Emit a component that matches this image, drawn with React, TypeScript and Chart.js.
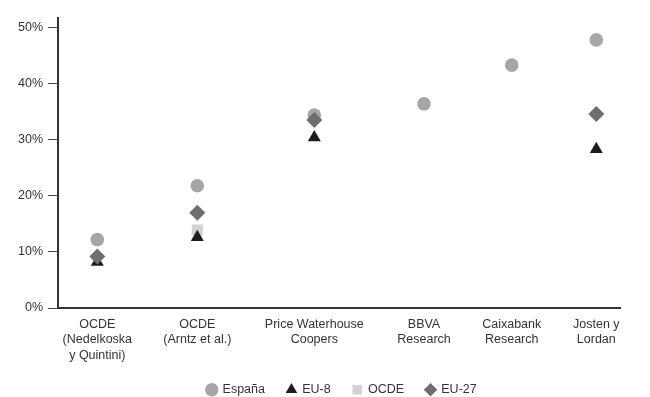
import React, { useEffect, useRef } from "react";
import { Chart, registerables } from "chart.js";

Chart.register(...registerables);

const categories: string[][] = [
  ["OCDE", "(Nedelkoska", "y Quintini)"],
  ["OCDE", "(Arntz et al.)"],
  ["Price Waterhouse", "Coopers"],
  ["BBVA", "Research"],
  ["Caixabank", "Research"],
  ["Josten y", "Lordan"],
];
// horizontal position of each study along the axis (uneven spacing as in the source)
const categoryPositions = [0, 1.0, 2.17, 3.267, 4.144, 4.99];

const espana = [12.2, 21.8, 34.4, 36.4, 43.3, 47.8];
const eu8 = [8.2, 12.6, 30.4, null, null, 28.3];
const ocde = [null, 13.9, null, null, null, null];
const eu27 = [9.2, 17.0, 33.5, null, null, 34.6];

const yTicks = [0, 10, 20, 30, 40, 50];

const FONT = "'Liberation Sans', Arial, Helvetica, sans-serif";
const TEXT = "#333333";

function toPoints(values: (number | null)[]) {
  return values
    .map((v, i) => (v === null ? null : { x: categoryPositions[i], y: v }))
    .filter((p) => p !== null) as { x: number; y: number }[];
}

const legendPlacement = {
  id: "legendPlacement",
  afterLayout(chart: any) {
    const lg = chart.legend;
    const area = chart.chartArea;
    if (lg && area) {
      const dx = (area.left + area.right) / 2 + 3 - (lg.left + lg.right) / 2;
      lg.left += dx;
      lg.right += dx;
      lg.top += 9;
      lg.bottom += 9;
    }
    const xs = chart.scales.x;
    if (xs) xs.bottom = xs.top + 62;
  },
};

export default function App() {
  const ref = useRef<HTMLCanvasElement | null>(null);

  useEffect(() => {
    if (!ref.current) return;
    const chart = new Chart(ref.current, {
      type: "scatter",
      plugins: [legendPlacement],
      data: {
        datasets: [
          {
            label: "España",
            data: toPoints(espana),
            pointStyle: "circle",
            pointRadius: 6.8,
            backgroundColor: "#a6a6a6",
            borderColor: "#a6a6a6",
            borderWidth: 0,
            order: 4,
          },
          {
            label: "EU-8",
            data: toPoints(eu8),
            pointStyle: "triangle",
            pointRadius: 7.5,
            backgroundColor: "#1c1c1c",
            borderColor: "#1c1c1c",
            borderWidth: 0,
            order: 2,
          },
          {
            label: "OCDE",
            data: toPoints(ocde),
            pointStyle: "rect",
            pointRadius: 7.8,
            backgroundColor: "#d2d2d2",
            borderColor: "#d2d2d2",
            borderWidth: 0,
            order: 3,
          },
          {
            label: "EU-27",
            data: toPoints(eu27),
            pointStyle: "rectRot",
            pointRadius: 8,
            backgroundColor: "#6e6e6e",
            borderColor: "#6e6e6e",
            borderWidth: 0,
            order: 1,
          },
        ],
      },
      options: {
        animation: false,
        responsive: false,
        maintainAspectRatio: false,
        layout: { padding: { top: 18, right: 30, left: 0, bottom: 0 } },
        plugins: {
          tooltip: { enabled: false },
          legend: {
            display: true,
            position: "bottom",
            labels: {
              usePointStyle: true,
              boxWidth: 9,
              boxHeight: 9.5,
              padding: 22,
              color: TEXT,
              font: { family: FONT, size: 12.5 },
              sort: (a: any, b: any) => a.datasetIndex - b.datasetIndex,
            },
          },
        },
        scales: {
          x: {
            type: "linear",
            min: -0.393,
            max: 5.227,
            afterBuildTicks: (scale: any) => {
              scale.ticks = categoryPositions.map((v) => ({ value: v }));
            },
            afterFit: (scale: any) => {
              scale.height = 44.5;
            },
            grid: { display: true, drawOnChartArea: false, drawTicks: false },
            border: { display: true, color: "#333333", width: 2 },
            ticks: {
              autoSkip: false,
              maxRotation: 0,
              minRotation: 0,
              padding: 9,
              color: TEXT,
              font: { family: FONT, size: 12.5, lineHeight: 1.22 },
              callback: (_v: any, i: number) => categories[i],
            },
          },
          y: {
            type: "linear",
            min: 0,
            max: 51.7,
            afterBuildTicks: (scale: any) => {
              scale.ticks = yTicks.map((v) => ({ value: v }));
            },
            afterFit: (scale: any) => {
              scale.width = 58;
            },
            grid: {
              display: true,
              drawOnChartArea: false,
              drawTicks: true,
              tickLength: 10,
              color: "#444444",
              lineWidth: 1,
            },
            border: { display: true, color: "#333333", width: 2 },
            ticks: {
              padding: 5,
              color: TEXT,
              font: { family: FONT, size: 12.5 },
              callback: (v: any) => `${v}%`,
            },
          },
        },
      },
    });
    return () => chart.destroy();
  }, []);

  return (
    <div style={{ position: "absolute", left: 0, top: 0, width: 650, height: 397, background: "#fff" }}>
      <canvas ref={ref} width={650} height={397} style={{ width: 650, height: 397, display: "block" }} />
    </div>
  );
}
